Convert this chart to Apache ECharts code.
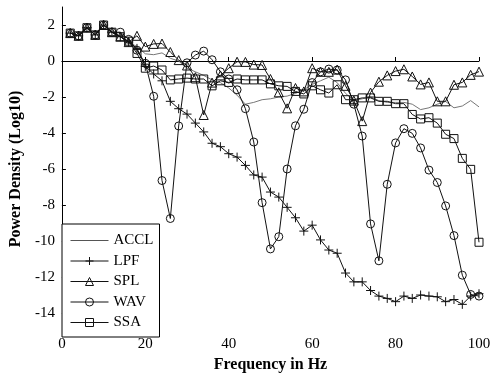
<!DOCTYPE html>
<html><head><meta charset="utf-8">
<script src="https://cdn.jsdelivr.net/npm/echarts@6/dist/echarts.min.js"></script>
<style>html,body{margin:0;padding:0;background:#fff}#c{width:495px;height:378px}</style>
</head><body><div id="c"></div>
<script>
const freq = [2,4,6,8,10,12,14,16,18,20,22,24,26,28,30,32,34,36,38,40,42,44,46,48,50,52,54,56,58,60,62,64,66,68,70,72,74,76,78,80,82,84,86,88,90,92,94,96,98,100];
const accl = [1.55,1.4,1.85,1.45,2.0,1.6,1.35,1.05,0.8,0.4,0.35,0.45,0.15,0.0,-0.4,-0.6,-0.8,-1.05,-1.2,-1.5,-1.9,-2.4,-2.3,-2.15,-2.1,-2.0,-1.95,-1.8,-1.6,-1.3,-1.1,-0.9,-1.2,-1.8,-2.2,-2.1,-2.0,-2.2,-2.3,-2.3,-2.3,-2.4,-2.7,-2.6,-2.4,-2.25,-2.6,-2.5,-2.2,-2.55];
const lpf = [1.55,1.4,1.85,1.45,2.0,1.6,1.35,1.05,0.7,-0.3,-0.72,-1.1,-2.24,-2.65,-2.95,-3.45,-3.94,-4.57,-4.76,-5.15,-5.34,-5.8,-6.33,-6.45,-7.28,-7.56,-8.13,-8.71,-9.45,-9.12,-9.94,-10.5,-10.68,-11.78,-12.27,-12.27,-12.75,-13.06,-13.19,-13.37,-13.06,-13.19,-13.0,-13.06,-13.1,-13.37,-13.25,-13.52,-13.06,-12.93];
const spl = [1.55,1.4,1.85,1.45,2.0,1.6,1.35,1.05,1.4,0.8,0.95,0.97,0.5,0.05,-0.25,-0.9,-3.0,-1.2,-0.8,-0.4,-0.04,-0.05,-0.2,-0.22,-1.0,-1.74,-2.63,-1.5,-1.69,-0.4,-0.6,-0.6,-0.48,-1.38,-2.2,-3.34,-1.75,-1.15,-0.8,-0.56,-0.46,-0.86,-1.3,-1.19,-2.24,-2.24,-1.32,-1.19,-0.77,-0.59];
const wav = [1.55,1.4,1.85,1.45,2.0,1.6,1.6,1.2,0.6,-0.13,-1.96,-6.64,-8.75,-3.61,-0.1,0.33,0.55,0.07,-0.6,-1.0,-1.6,-2.65,-4.5,-7.87,-10.44,-9.76,-6.0,-3.6,-2.68,-1.2,-0.6,-0.45,-0.5,-1.05,-2.4,-4.17,-9.05,-11.1,-6.85,-4.55,-3.76,-4.02,-4.83,-6.06,-6.75,-8.05,-9.7,-11.9,-12.97,-13.06];
const ssa = [1.55,1.4,1.85,1.45,2.0,1.6,1.35,1.1,0.42,-0.4,-0.28,-0.5,-1.05,-1.0,-0.95,-1.0,-1.0,-1.38,-1.1,-1.19,-1.0,-1.05,-1.05,-1.05,-1.27,-1.38,-1.41,-1.69,-1.83,-1.38,-1.6,-1.78,-1.32,-2.15,-2.15,-2.05,-2.05,-2.24,-2.24,-2.37,-2.37,-2.97,-3.22,-3.15,-3.45,-4.07,-4.31,-5.41,-6.02,-10.07];
const xTicks = [0,20,40,60,80,100];
const yTicks = [-14,-12,-10,-8,-6,-4,-2,0,2];
const seriesNames = ['ACCL','LPF','SPL','WAV','SSA'];

const pair = arr => freq.map((f,i)=>[f,arr[i]]);
const FONT = 'Liberation Serif, Times New Roman, serif';
const INK = '#111';
const plus = 'path://M0,5L10,5M5,0L5,10';

function mk(name, arr, symbol, size, lineColor){
  return {
    name, type:'line', data: pair(arr),
    symbol, symbolSize:size, showSymbol: symbol!=='none',
    lineStyle:{color:lineColor, width:1},
    itemStyle:{color:'rgba(255,255,255,0)', borderColor:INK, borderWidth:1},
    emphasis:{disabled:true}, z:2
  };
}

const legendData = seriesNames.map(n => n==='ACCL'
  ? {name:n, itemStyle:{color:'rgba(0,0,0,0)', borderColor:'rgba(0,0,0,0)', borderWidth:0}, lineStyle:{width:1, color:'#555'}}
  : {name:n});

const chart = echarts.init(document.getElementById('c'), null, {renderer:'canvas'});
chart.setOption({
  animation:false,
  backgroundColor:'#fff',
  grid:{left:61, right:16, top:7, bottom:43},
  xAxis:{type:'value', min:0, max:100, interval:20,
    name:'Frequency in Hz', nameLocation:'middle', nameGap:26,
    nameTextStyle:{fontFamily:FONT, fontSize:16, fontWeight:'bold', color:'#000'},
    axisLine:{lineStyle:{color:'#000', width:1}},
    axisTick:{inside:true, length:4, lineStyle:{color:'#000'}},
    axisLabel:{fontFamily:FONT, fontSize:15, color:'#000', margin:6},
    splitLine:{show:false}},
  yAxis:{type:'value', min:-15, max:3,
    name:'Power Density (Log10)', nameLocation:'middle', nameGap:29,
    nameTextStyle:{fontFamily:FONT, fontSize:16, fontWeight:'bold', color:'#000'},
    axisLine:{show:true, lineStyle:{color:'#000', width:1}},
    axisTick:{show:true, inside:true, length:4, lineStyle:{color:'#000'}, customValues:yTicks},
    axisLabel:{fontFamily:FONT, fontSize:15, color:'#000', margin:7, customValues:yTicks},
    splitLine:{show:false}},
  legend:{orient:'vertical', left:62, top:224, data:legendData,
    backgroundColor:'#fff', borderColor:'#000', borderWidth:1,
    padding:[9,6,7,8], itemWidth:38, itemHeight:10, itemGap:5.5,
    lineStyle:{width:1},
    itemStyle:{borderWidth:1},
    textStyle:{fontFamily:FONT, fontSize:15, color:'#000'}},
  series:[
    mk('ACCL', accl, 'none', 0, '#777'),
    mk('LPF', lpf, plus, 9, INK),
    mk('SPL', spl, 'triangle', 9, INK),
    mk('WAV', wav, 'circle', 8, INK),
    mk('SSA', ssa, 'rect', 8, INK)
  ]
});
</script></body></html>
